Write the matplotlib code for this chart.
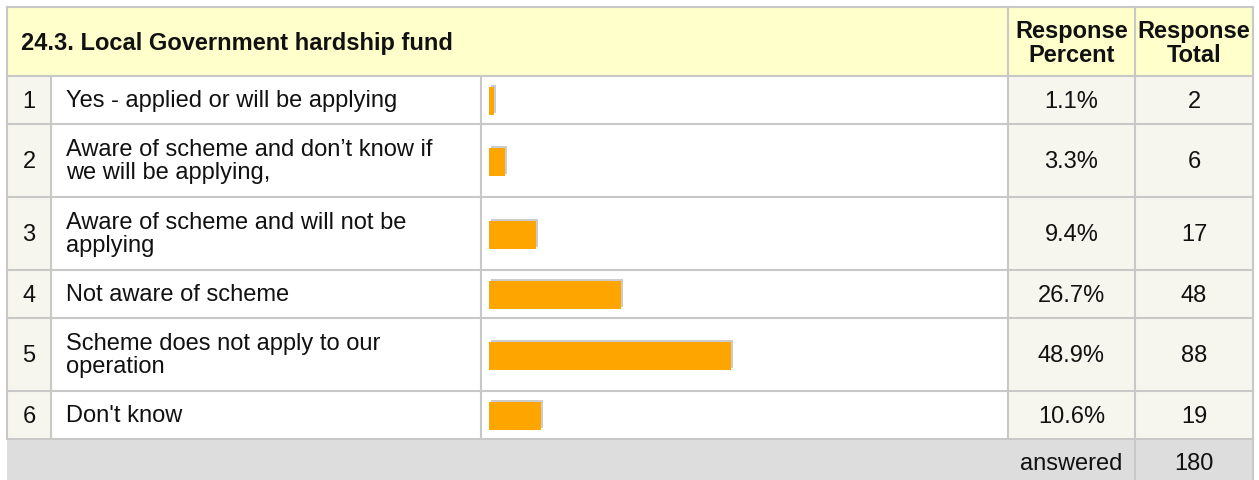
import matplotlib
matplotlib.use("Agg")
import matplotlib.pyplot as plt
from matplotlib.patches import Rectangle
import matplotlib.transforms as mtrans

# ---- data ----
title = "24.3. Local Government hardship fund"
header_percent = "Response\nPercent"
header_total = "Response\nTotal"
row_numbers = ["1", "2", "3", "4", "5", "6"]
answers = [
    "Yes - applied or will be applying",
    "Aware of scheme and don\u2019t know if\nwe will be applying,",
    "Aware of scheme and will not be\napplying",
    "Not aware of scheme",
    "Scheme does not apply to our\noperation",
    "Don't know",
]
percents = [1.1, 3.3, 9.4, 26.7, 48.9, 10.6]
totals = [2, 6, 17, 48, 88, 19]
answered_label = "answered"
answered_total = 180

# ---- layout ----
W, H = 1259, 481
fig = plt.figure(figsize=(W / 100, H / 100), dpi=100)
ax = fig.add_axes([0, 0, 1, 1])
ax.set_xlim(0, W)
ax.set_ylim(H, 0)
ax.axis("off")

FONT = ["Liberation Sans", "DejaVu Sans"]
FS = 17.0
GRID = "#C8C8C8"
LW = 1.5
BEIGE = "#F6F6EF"
TXT = "#111111"

X0, XN, XL, XB, XP, X1 = 7, 51, 481, 1008, 1135, 1253
Y_TOP, Y_HEAD = 8, 77

# row bounds from line counts
bounds = [Y_HEAD]
for a in answers:
    n = a.count("\n") + 1
    bounds.append(bounds[-1] + 48 + 25 * (n - 1))
Y_END = bounds[-1]
centers = [(bounds[i] + bounds[i + 1]) / 2 for i in range(len(answers))]

# backgrounds
ax.add_patch(Rectangle((X0, Y_TOP), X1 - X0, Y_HEAD - Y_TOP, fc="#FFFFCC", ec="none", zorder=0))
for i in range(len(answers)):
    y0, y1 = bounds[i], bounds[i + 1]
    ax.add_patch(Rectangle((X0, y0), XN - X0, y1 - y0, fc=BEIGE, ec="none", zorder=0))
    ax.add_patch(Rectangle((XN, y0), XB - XN, y1 - y0, fc="white", ec="none", zorder=0))
    ax.add_patch(Rectangle((XB, y0), X1 - XB, y1 - y0, fc=BEIGE, ec="none", zorder=0))
ax.add_patch(Rectangle((X0, Y_END), X1 - X0, H - Y_END + 10, fc="#DDDDDD", ec="none", zorder=0))

# grid lines
ax.plot([X0, X1], [Y_TOP, Y_TOP], color=GRID, lw=LW, zorder=1)
for y in bounds:
    ax.plot([X0, X1], [y, y], color=GRID, lw=LW, zorder=1)
ax.plot([X0, X0], [Y_TOP, Y_END], color=GRID, lw=LW, zorder=1)
ax.plot([X1, X1], [Y_TOP, H], color=GRID, lw=LW, zorder=1)
ax.plot([XN, XN], [Y_HEAD, Y_END], color=GRID, lw=LW, zorder=1)
ax.plot([XL, XL], [Y_HEAD, Y_END], color=GRID, lw=LW, zorder=1)
ax.plot([XB, XB], [Y_TOP, Y_END], color=GRID, lw=LW, zorder=1)
ax.plot([XP, XP], [Y_TOP, H], color=GRID, lw=LW, zorder=1)

# header text
ax.text(21, (Y_TOP + Y_HEAD) / 2 + 1, title, fontsize=FS, fontweight="bold",
        family=FONT, ha="left", va="center", color=TXT)
ax.text((XB + XP) / 2, (Y_TOP + Y_HEAD) / 2 + 1, header_percent, fontsize=FS, fontweight="bold",
        family=FONT, ha="center", va="center", linespacing=1.1, color=TXT)
ax.text((XP + X1) / 2, (Y_TOP + Y_HEAD) / 2 + 1, header_total, fontsize=FS, fontweight="bold",
        family=FONT, ha="center", va="center", linespacing=1.1, color=TXT)

# rows
for i, yc in enumerate(centers):
    ax.text((X0 + XN) / 2, yc + 1, row_numbers[i], fontsize=FS, family=FONT,
            ha="center", va="center", color=TXT)
    ax.text(66, yc, answers[i], fontsize=FS, family=FONT, ha="left", va="center",
            linespacing=1.05, color=TXT)
    ax.text((XB + XP) / 2, yc + 1, f"{percents[i]:.1f}%", fontsize=FS, family=FONT,
            ha="center", va="center", color=TXT)
    ax.text((XP + X1) / 2, yc + 1, str(totals[i]), fontsize=FS, family=FONT,
            ha="center", va="center", color=TXT)

ax.text((XB + XP) / 2, 464, answered_label, fontsize=FS, family=FONT,
        ha="center", va="center", color=TXT)
ax.text((XP + X1) / 2, 464, str(answered_total), fontsize=FS, family=FONT,
        ha="center", va="center", color=TXT)

# bars
ax_bar = fig.add_axes([489 / W, 0, 495 / W, 1])
ax_bar.set_xlim(0, 100)
ax_bar.set_ylim(H, 0)
ax_bar.axis("off")
ax_bar.patch.set_alpha(0)
bar_y = [c + 1 for c in centers]
shadow = ax_bar.barh(bar_y, percents, height=28, left=0, color="#CCCCCC", zorder=2)
offset = mtrans.ScaledTranslation(2 / 100, 2 / 100, fig.dpi_scale_trans)
for p in shadow:
    p.set_transform(ax_bar.transData + offset)
ax_bar.barh(bar_y, percents, height=28, left=0, color="#FFA500", zorder=3)

fig.savefig("out.png", dpi=100)
